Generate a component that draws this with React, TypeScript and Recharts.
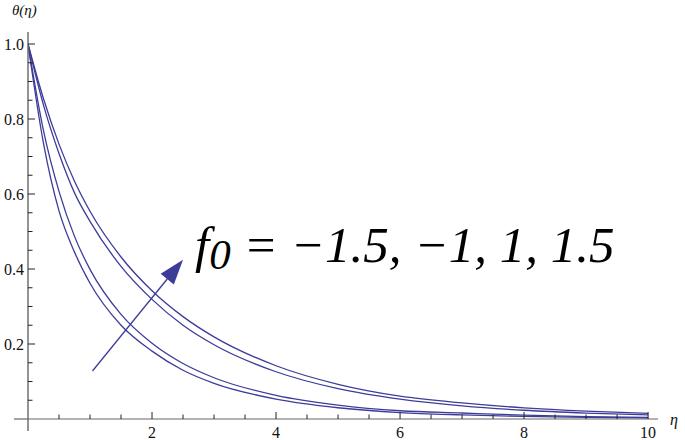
import React from "react";
import { LineChart, Line, XAxis, YAxis, ReferenceLine } from "recharts";

const ETA = [0, 0.25, 0.5, 0.75, 1, 1.5, 2, 2.5, 3, 4, 5, 6, 7, 8, 9, 10];
// theta(eta) for f0 = 1.5, 1, -1, -1.5 (top to bottom)
const THETA_P15 = [1, 0.854, 0.733, 0.634, 0.554, 0.432, 0.342, 0.273, 0.219, 0.142, 0.0926, 0.061, 0.0429, 0.0296, 0.0209, 0.015];
const THETA_P1 = [1, 0.837, 0.708, 0.603, 0.527, 0.407, 0.319, 0.25, 0.198, 0.126, 0.081, 0.053, 0.035, 0.0233, 0.0159, 0.011];
const THETA_M1 = [1, 0.769, 0.607, 0.487, 0.399, 0.279, 0.202, 0.148, 0.11, 0.063, 0.037, 0.022, 0.016, 0.0105, 0.0065, 0.004];
const THETA_M15 = [1, 0.735, 0.555, 0.445, 0.362, 0.25, 0.181, 0.13, 0.095, 0.053, 0.03, 0.017, 0.011, 0.007, 0.0045, 0.003];

const X_TICKS = Array.from({ length: 21 }, (_, i) => i * 0.5);
const Y_TICKS = Array.from({ length: 21 }, (_, i) => Number((i * 0.05).toFixed(2)));
const X_LABELS = [2, 4, 6, 8, 10];
const Y_LABELS = [0.2, 0.4, 0.6, 0.8, 1.0];

const ARROW_FROM = { x: 1.04, y: 0.128 };
const ARROW_TO = { x: 2.5, y: 0.425 };

const CURVE = "#3d3d99";
const AXIS = "#666";
const FONT =
  '"Liberation Serif", "DejaVu Serif", "Times New Roman", Times, Tinos, "Nimbus Roman", FreeSerif, serif';

const rows = ETA.map((eta, i) => ({
  eta,
  a: THETA_P15[i],
  b: THETA_P1[i],
  c: THETA_M1[i],
  d: THETA_M15[i],
}));

function XTick(props: any) {
  const { x, y, payload } = props;
  const v = payload.value;
  const major = X_LABELS.includes(v);
  return (
    <g>
      {v === 0 ? (
        <>
          <line x1={x - 14} y1={y} x2={x} y2={y} stroke={AXIS} strokeWidth={1.2} />
          <line x1={x} y1={y} x2={x} y2={y + 12} stroke={AXIS} strokeWidth={1.4} />
        </>
      ) : (
        <line x1={x} y1={y} x2={x} y2={y - (major ? 7 : 4.5)} stroke="#222" strokeWidth={1} />
      )}
      {major && (
        <text x={x} y={y + 19} textAnchor="middle" fontSize={16} style={{ fontFamily: FONT }} fill="#111">
          {v}
        </text>
      )}
    </g>
  );
}

function YTick(props: any) {
  const { x, y, payload } = props;
  const v = payload.value;
  if (v === 0) return null;
  const major = Y_LABELS.some((m) => Math.abs(m - v) < 1e-6);
  return (
    <g>
      <line x1={x} y1={y} x2={x + (major ? 7 : 4.5)} y2={y} stroke="#222" strokeWidth={1} />
      {major && (
        <text x={x - 4} y={y + 5.5} textAnchor="end" fontSize={16} style={{ fontFamily: FONT }} fill="#111">
          {v.toFixed(1)}
        </text>
      )}
    </g>
  );
}

function Arrow(props: any) {
  const { x1, y1, x2, y2 } = props;
  const dx = x2 - x1;
  const dy = y2 - y1;
  const len = Math.sqrt(dx * dx + dy * dy);
  const ux = dx / len;
  const uy = dy / len;
  const headLen = 25;
  const headHalf = 8.5;
  const bx = x2 - ux * headLen;
  const by = y2 - uy * headLen;
  const pts = [
    [x2, y2],
    [bx - uy * headHalf, by + ux * headHalf],
    [bx + uy * headHalf, by - ux * headHalf],
  ]
    .map((p) => p.join(","))
    .join(" ");
  return (
    <g>
      <line x1={x1} y1={y1} x2={bx} y2={by} stroke={CURVE} strokeWidth={1.3} />
      <polygon points={pts} fill={CURVE} />
    </g>
  );
}

export default function App() {
  return (
    <div style={{ position: "absolute", left: 0, top: 0, width: 685, height: 440, background: "#fff" }}>
      <LineChart
        width={685}
        height={440}
        data={rows}
        margin={{ top: 32, right: 27, bottom: 0, left: 0 }}
      >
        <XAxis
          dataKey="eta"
          type="number"
          domain={[0, 10.16]}
          ticks={X_TICKS}
          interval={0}
          height={21}
          tickSize={0}
          tickMargin={0}
          axisLine={{ stroke: AXIS, strokeWidth: 1.2 }}
          tickLine={false}
          tick={<XTick />}
          allowDataOverflow
        />
        <YAxis
          type="number"
          domain={[0, 1.032]}
          ticks={Y_TICKS}
          interval={0}
          width={28}
          tickSize={0}
          tickMargin={0}
          axisLine={{ stroke: AXIS, strokeWidth: 1.4 }}
          tickLine={false}
          tick={<YTick />}
          allowDataOverflow
        />
        {(["a", "b", "c", "d"] as const).map((k) => (
          <Line
            key={k}
            dataKey={k}
            type="monotone"
            stroke={CURVE}
            strokeWidth={1.3}
            dot={false}
            isAnimationActive={false}
          />
        ))}
        <ReferenceLine
          segment={[ARROW_FROM, ARROW_TO]}
          ifOverflow="visible"
          shape={(p: any) => <Arrow {...p} />}
        />
      </LineChart>
      <svg
        width={685}
        height={440}
        style={{ position: "absolute", left: 0, top: 0, pointerEvents: "none", fontFamily: FONT }}
      >
        <text x={12} y={15} fontSize={15} fontStyle="italic" fill="#111">
          θ(η)
        </text>
        <text x={670} y={425} fontSize={16} fontStyle="italic" fill="#111">
          η
        </text>
        <text x={195} y={262} fontSize={51} fontStyle="italic" fill="#000">
          f
          <tspan fontSize={43} dy={7}>0</tspan>
          <tspan dy={-7}> = −1.5, −1, 1, 1.5</tspan>
        </text>
      </svg>
    </div>
  );
}
